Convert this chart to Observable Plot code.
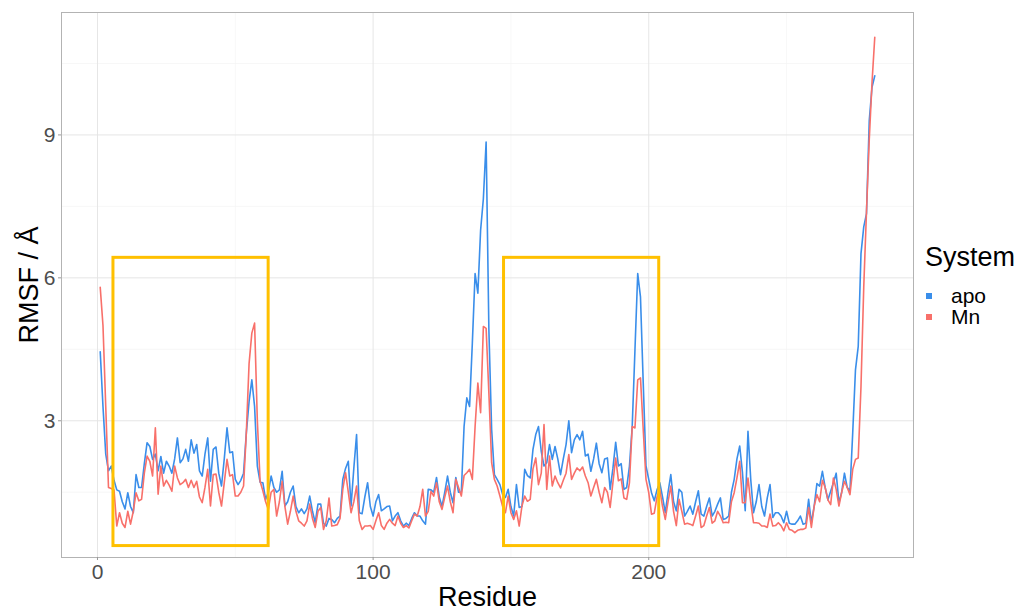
<!DOCTYPE html>
<html>
<head>
<meta charset="utf-8">
<script src="https://cdn.jsdelivr.net/npm/d3@7"></script>
<script src="https://cdn.jsdelivr.net/npm/@observablehq/plot@0.6"></script>
<style>
  body { margin: 0; background: #fff; font-family: "Liberation Sans", Arial, Helvetica, sans-serif; }
  #wrap { position: relative; width: 1021px; height: 611px; overflow: hidden; }
  .lg { position: absolute; white-space: nowrap; color: #000; }
  .key { position: absolute; width: 6px; height: 6px; }
</style>
</head>
<body>
<div id="wrap"></div>
<script>
// RMSF per residue (Å)
const apo = [
  4.45, 3.3, 2.3, 1.95, 2.05, 1.75, 1.55, 1.52, 1.3, 1.15,
  1.49, 1.2, 1.07, 1.87, 1.6, 1.6, 2.1, 2.54, 2.46, 2.19,
  2.3, 1.95, 2.25, 1.9, 2.15, 2.05, 1.9, 2.2, 2.64, 2.12,
  2.2, 2.4, 2.15, 2.6, 2.32, 2.5, 1.95, 1.84, 2.3, 2.64,
  1.73, 2.4, 2.45, 1.9, 1.63, 2.2, 2.85, 2.33, 2.35, 1.77,
  1.66, 1.75, 1.9, 2.74, 3.4, 3.86, 3.3, 2.05, 1.71, 1.7, 1.35,
  1.5, 1.84, 1.6, 1.5, 1.55, 1.94, 1.21, 1.3, 1.5, 1.63,
  1.2, 1.07, 1.15, 1.05, 1.15, 1.42, 1.1, 0.86, 1.25, 1.25,
  0.85, 0.79, 0.95, 0.93, 0.86, 0.95, 1.0, 1.77, 2.0, 2.15,
  1.21, 2.0, 2.71, 1.07, 1.05, 1.4, 1.7, 1.2, 1.0, 1.3,
  1.45, 1.11, 1.15, 1.2, 1.21, 0.9, 1.0, 1.07, 0.9, 0.79,
  0.85,
  0.8, 0.95, 1.07, 1.0, 1.0, 0.9, 0.83, 1.56, 1.55, 1.5,
  1.81, 1.4, 1.2, 1.5, 1.84, 1.5, 1.28, 1.81, 1.5, 1.5,
  2.88, 3.48, 3.3, 4.63, 6.09, 5.68, 7.0, 7.66, 8.85, 4.91,
  2.82, 1.87, 1.77, 1.66, 1.45, 1.39, 1.56, 1.2, 1.0, 1.66,
  1.18, 1.2, 1.98, 1.85, 1.8, 2.4, 2.71, 2.88, 2.36, 2.05,
  2.12, 2.5, 2.19, 2.46, 2.2, 1.87, 2.2,
  2.5, 3.0, 2.33, 2.6,
  2.71, 2.6, 2.78, 2.26, 2.3, 1.94, 2.2, 2.53, 2.1, 1.91,
  2.2, 2.22, 1.56, 2.0, 2.55, 2.05, 2.1, 1.56, 1.6, 2.05,
  2.88, 4.49, 6.09, 5.6, 3.79, 2.05, 1.77, 1.49, 1.32, 1.55,
  1.7, 1.4, 1.07, 1.5, 1.87, 1.3, 1.11, 1.56, 1.5, 1.0,
  1.1, 1.21, 1.04, 1.3, 1.53, 1.04, 1.0, 1.2, 1.38, 1.0,
  1.1, 1.25, 1.38,
  0.93, 0.95, 1.0, 1.5, 1.77, 2.2, 2.47, 1.91,
  1.11, 2.78, 1.77, 1.07, 1.3, 1.66, 1.2, 1.0, 1.38, 1.66,
  0.97, 1.07, 1.07, 1.0, 0.86, 1.1, 0.85, 0.83, 0.83, 0.9,
  1.0, 0.83, 0.85, 1.35, 0.86, 1.2, 1.68, 1.63, 1.94, 1.6,
  1.34, 1.52, 1.7, 1.9, 1.28, 1.5, 1.9, 1.6, 1.53, 2.75,
  4.07, 4.56, 6.51, 7.07, 7.35, 9.3, 10.0, 10.24
];
const mn = [
  5.8, 5.0, 3.3, 1.6, 1.58, 1.55, 0.79, 1.07, 0.85, 0.76,
  1.1, 0.83, 1.1, 1.49, 1.32, 1.35, 1.9, 2.26, 2.15, 1.84,
  2.85, 1.46, 2.05, 1.63, 1.75, 1.65, 1.52, 2.05, 1.8, 1.66,
  1.7, 1.77, 1.6, 1.75, 1.6, 1.73, 1.4, 1.28, 1.6, 1.98,
  1.21, 1.87, 1.88, 1.5, 1.21, 1.7, 2.19, 1.84, 1.87, 1.42,
  1.42, 1.5, 1.63, 2.74, 4.2, 4.84, 5.05, 3.0, 1.73, 1.53, 1.3,
  1.14, 1.5, 1.56, 1.0, 1.3, 1.73, 1.2, 0.83, 1.1, 1.42,
  1.1, 0.9, 0.85, 0.79, 0.9, 1.25, 0.95, 0.76, 1.1, 1.18,
  0.72, 0.9, 1.38, 0.79, 0.8, 0.82, 0.95, 1.56, 1.91, 1.5,
  1.07, 1.3, 1.63, 0.9, 0.72, 0.79, 0.79, 0.8, 0.72, 0.9,
  1.07, 0.8, 0.72, 0.85, 0.93, 0.85, 0.8, 1.0, 0.85, 0.76,
  0.8,
  0.75, 0.9, 1.04, 1.0, 1.2, 1.56, 1.0, 1.1, 1.52, 1.42,
  1.7, 1.3, 1.14, 1.4, 1.63, 1.3, 1.07, 1.77, 1.6, 1.42,
  1.85, 1.91, 1.98, 1.77, 2.88, 3.79, 3.17, 4.98, 4.94, 3.58,
  2.12, 1.77, 1.63, 1.42, 1.2, 1.07, 1.42, 1.07, 0.93, 1.11,
  0.79, 1.21, 1.42, 1.31, 1.35, 1.99, 2.22, 1.66, 1.9, 2.92,
  1.56, 2.26, 1.63, 1.84, 1.7, 1.59, 1.75,
  1.9, 2.29, 1.77, 1.9,
  2.01, 1.95, 2.03, 1.84, 1.7, 1.42, 1.6, 1.77, 1.5, 1.28,
  1.6, 1.5, 1.18, 1.7, 2.22, 1.74, 1.78, 1.38, 1.35, 1.7,
  2.88, 2.85, 3.86, 3.9, 2.81, 1.77, 1.49, 1.04, 1.06, 1.4,
  1.56, 1.2, 0.93, 1.3, 1.63, 1.1, 0.8, 1.35, 1.1, 0.83,
  0.85, 0.83, 0.8, 1.0, 1.21, 0.76, 0.8, 1.0, 1.18, 0.85,
  0.9, 1.1, 1.0,
  0.86, 0.87, 0.86, 1.3, 1.49, 1.8, 2.15, 1.28,
  1.28, 1.8, 1.28, 0.86, 0.86, 0.85, 0.79, 0.79, 0.76, 1.04,
  0.79, 0.8, 0.86, 0.8, 0.69, 0.86, 0.72, 0.7, 0.65, 0.7,
  0.72, 0.72, 0.75, 1.18, 0.76, 1.2, 1.45, 1.3, 1.75, 1.6,
  1.34, 1.24, 1.8, 1.56, 1.21, 1.5, 1.73, 1.6, 1.45, 1.98,
  2.19, 2.22, 3.72, 5.81, 7.4, 8.9, 10.1, 11.05
];
const systems = ["apo", "Mn"];
const systemColors = ["#3A8EEA", "#F8706A"];

// highlighted regions (residue range, RMSF range)
const boxStart = [5.8, 147.5];
const boxEnd = [62.1, 203.8];
const boxLow = [0.37, 0.37];
const boxHigh = [6.42, 6.42];

const xTicks = [0, 100, 200];
const xMinor = [50, 150, 250];
const yTicks = [3, 6, 9];
const yMinor = [1.5, 4.5, 7.5, 10.5];

const rows = [];
apo.forEach((v, i) => rows.push({residue: i + 1, rmsf: v, system: "apo"}));
mn.forEach((v, i) => rows.push({residue: i + 1, rmsf: v, system: "Mn"}));
const boxes = boxStart.map((s, i) => ({x1: s, x2: boxEnd[i], y1: boxLow[i], y2: boxHigh[i]}));

const font = '"Liberation Sans", Arial, Helvetica, sans-serif';

const chart = Plot.plot({
  width: 1021,
  height: 611,
  marginLeft: 61,
  marginRight: 108,
  marginTop: 12,
  marginBottom: 54,
  x: {domain: [-13.05, 296.05]},
  y: {domain: [0.13, 11.57]},
  color: {domain: systems, range: systemColors},
  style: {fontFamily: font, background: "white", overflow: "visible"},
  marks: [
    Plot.gridX(xMinor, {stroke: "#f3f3f3", strokeOpacity: 1, strokeWidth: 0.7}),
    Plot.gridY(yMinor, {stroke: "#f3f3f3", strokeOpacity: 1, strokeWidth: 0.7}),
    Plot.gridX(xTicks, {stroke: "#e6e6e6", strokeOpacity: 1, strokeWidth: 1}),
    Plot.gridY(yTicks, {stroke: "#e6e6e6", strokeOpacity: 1, strokeWidth: 1}),
    Plot.line(rows, {x: "residue", y: "rmsf", z: "system", stroke: "system", strokeWidth: 1.6}),
    Plot.rect(boxes, {x1: "x1", x2: "x2", y1: "y1", y2: "y2", fill: "none", stroke: "#FFC000", strokeWidth: 3}),
    Plot.frame({stroke: "#b3b3b3", strokeWidth: 1}),
    Plot.axisX(xTicks, {tickSize: 3, tickPadding: 4, fontSize: 21, stroke: "#999", fill: "#4d4d4d", label: null, tickFormat: d => String(d)}),
    Plot.axisY(yTicks, {tickSize: 3, tickPadding: 3, fontSize: 21, stroke: "#999", fill: "#4d4d4d", label: null, tickFormat: d => String(d)}),
    Plot.text(["Residue"], {frameAnchor: "bottom", dy: 40, fontSize: 27, fill: "#000", textAnchor: "middle", lineAnchor: "middle"}),
    Plot.text(["RMSF / Å"], {frameAnchor: "left", dx: -32.6, fontSize: 27, fill: "#000", rotate: -90, textAnchor: "middle", lineAnchor: "middle"})
  ]
});

const wrap = document.getElementById("wrap");
wrap.appendChild(chart);

// legend
const title = document.createElement("div");
title.className = "lg";
title.textContent = "System";
title.style.cssText = "left:925px;top:244px;font-size:27px;line-height:27px;";
wrap.appendChild(title);
systems.forEach((s, i) => {
  const k = document.createElement("div");
  k.className = "key";
  k.style.left = "926px";
  k.style.top = (293 + i * 21) + "px";
  k.style.background = systemColors[i];
  wrap.appendChild(k);
  const t = document.createElement("div");
  t.className = "lg";
  t.textContent = s;
  t.style.cssText = `left:951px;top:${286 + i * 21}px;font-size:21px;line-height:19px;height:19px;`;
  wrap.appendChild(t);
});
</script>
</body>
</html>
